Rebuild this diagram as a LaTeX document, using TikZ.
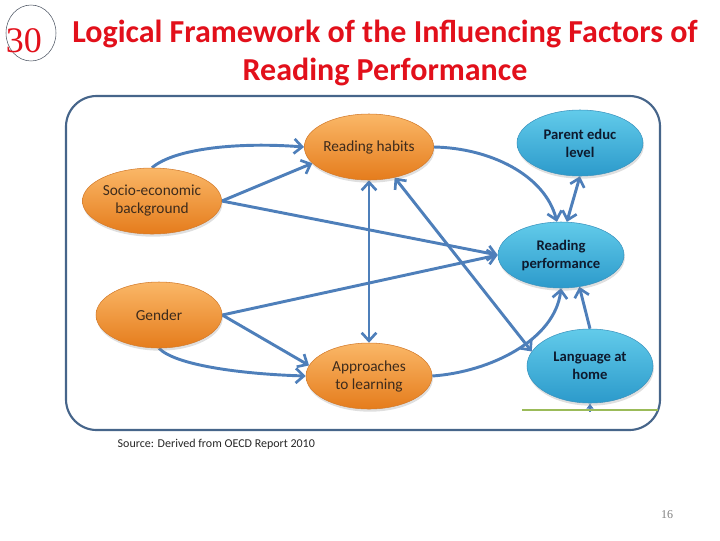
\documentclass[tikz,border=0pt]{standalone}
\usepackage{fontspec}
\setmainfont{Carlito}
\newfontfamily\numfont{Liberation Serif}
\usepackage{xcolor}
\usetikzlibrary{arrows.meta,shapes.geometric,shadows,backgrounds}
\definecolor{titlered}{HTML}{E2101B}
\definecolor{ringgray}{HTML}{4D5563}
\definecolor{framedark}{HTML}{46658A}
\definecolor{linkblue}{HTML}{4E7FBA}
\definecolor{orangetop}{HTML}{FAB767}
\definecolor{orangebot}{HTML}{E57C1C}
\definecolor{orangeline}{HTML}{D37B2C}
\definecolor{bluetop}{HTML}{62CBEA}
\definecolor{bluebot}{HTML}{2C9ACB}
\definecolor{blueline}{HTML}{3A93BE}
\definecolor{orangetext}{HTML}{3D2B1C}
\definecolor{bluetext}{HTML}{0E1A2E}
\definecolor{groundgreen}{HTML}{9BBB59}
\definecolor{pagegray}{HTML}{808080}

\begin{document}
\begin{tikzpicture}[
  x=0.75pt,y=-0.75pt,
  factor/.style={ellipse,inner sep=0pt,minimum width=94.5pt,minimum height=49.5pt,
    align=center,font=\fontsize{11.5}{13.5}\selectfont,
    drop shadow={opacity=0.25,shadow xshift=0.6pt,shadow yshift=-2pt}},
  learner/.style={factor,top color=orangetop,bottom color=orangebot,
    draw=orangeline,text=orangetext},
  outcome/.style={factor,top color=bluetop,bottom color=bluebot,
    draw=blueline,text=bluetext,font=\fontsize{11}{13.5}\selectfont\bfseries},
  link/.style={draw=linkblue,line width=2.2pt,
    -{Straight Barb[length=6pt,width=11pt,line width=2pt]}},
  twoway/.style={link,
    {Straight Barb[length=6pt,width=11pt,line width=2pt]}-{Straight Barb[length=6pt,width=11pt,line width=2pt]}}
]
\useasboundingbox (0,0) rectangle (720,540);

% slide number and title
\node[ellipse,draw=ringgray,thin,minimum width=37.5pt,minimum height=42pt] (numring) at (31,33) {};
\node[font=\numfont\fontsize{27}{27}\selectfont,text=titlered] (slideno) at (24,41) {30};
\node[font=\fontsize{24}{29}\selectfont\bfseries,text=titlered,align=center] (title) at (385,53)
  {Logical Framework of the Influencing Factors of\\Reading Performance};

% frame round the model
\draw[framedark,line width=1.6pt,rounded corners=23pt] (66,96) rectangle (660,430);
\draw[groundgreen,line width=0.9pt] (522,410) -- (658,410);

% factors
\node[learner] (habits) at (369,147) {Reading habits};
\node[outcome] (parent) at (580,143) {Parent educ\\level};
\node[learner] (socio) at (152,201) {Socio-economic\\background};
\node[outcome] (perf) at (561,255) {Reading\\performance};
\node[learner] (gender) at (159,315) {Gender};
\node[learner] (approach) at (369,376) {Approaches\\to learning};
\node[outcome,minimum height=55.5pt] (lang) at (590,366) {Language at\\home};
\coordinate (langfoot) at (590,412);

% links between factors
\begin{scope}[on background layer]
\draw[link] (socio.north) .. controls (175,148) and (240,142) .. (habits.west);
\draw[link] (socio.east) -- (habits.196);
\draw[link] (socio.east) -- (perf.west);
\draw[link] (gender.east) -- (perf.west);
\draw[link] (gender.east) -- (approach.170);
\draw[link] (gender.south) .. controls (175,365) and (240,374) .. (approach.west);
\draw[twoway] (habits.south) -- (approach.north);
\draw[twoway] (habits.-50) -- (lang.166);
\draw[link] (habits.east) .. controls (490,148) and (545,175) .. (perf.97);
\draw[twoway] (parent.south) -- (perf.80);
\draw[link] (approach.east) .. controls (490,372) and (555,340) .. (perf.south);
\draw[link] (lang.north) -- (perf.-60);
\draw[linkblue,line width=1.5pt,-{Latex[length=4pt,width=6pt]}] (langfoot) -- (lang.south);
\end{scope}

% source and page number
\node[anchor=west,font=\fontsize{9}{10}\selectfont,text=black!85] (source) at (113,444)
  {Source: Derived from OECD Report 2010};
\node[font=\numfont\fontsize{9}{10}\selectfont,text=pagegray] (pagenum) at (667,515) {16};
\end{tikzpicture}
\end{document}
